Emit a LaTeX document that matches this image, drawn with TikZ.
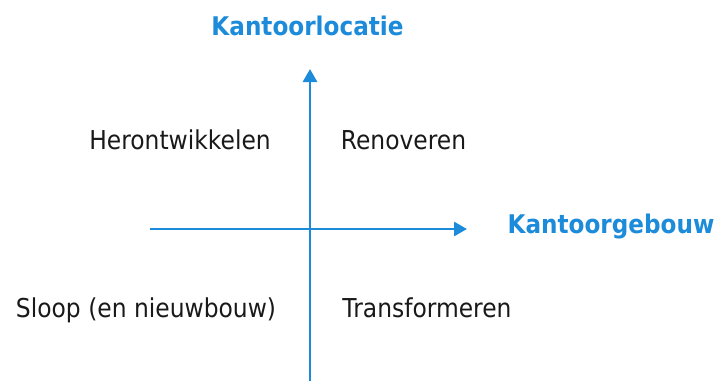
\documentclass[tikz,border=0pt]{standalone}
\usepackage{fontspec}
\setmainfont{DejaVu Sans}[FakeStretch=0.9]
\usetikzlibrary{arrows.meta}
\definecolor{axisblue}{RGB}{27,139,218}

\begin{document}
\begin{tikzpicture}[x=1pt,y=-1pt,
		axis/.style={draw=axisblue,line width=2.8pt,-{Triangle[length=13pt,width=14pt]}},
		quad/.style={anchor=base,text=black!90,font=\fontsize{26}{30}\selectfont},
		axislabel/.style={anchor=base,text=axisblue,font=\fontsize{25.7}{30}\selectfont\bfseries}]
			\useasboundingbox (0,0) rectangle (723,381);
			\coordinate (vbot) at (310,381);
			\coordinate (vtop) at (310,69);
			\coordinate (hleft) at (150,229);
			\coordinate (hright) at (467,229);
			\draw[axis] (vbot) -- (vtop);
			\draw[axis] (hleft) -- (hright);
			
			\node (locatie)[axislabel] at (307.5,35) {Kantoorlocatie};
			\node (gebouw)[axislabel] at (611,233) {Kantoorgebouw};
			
			\node (heront)[quad] at (180,149) {Herontwikkelen};
			\node (renov)[quad] at (403.5,149) {Renoveren};
			\node (sloop)[quad] at (146,317) {Sloop (en nieuwbouw)};
			\node (transf)[quad] at (427,317) {Transformeren};
		\end{tikzpicture}
\end{document}
